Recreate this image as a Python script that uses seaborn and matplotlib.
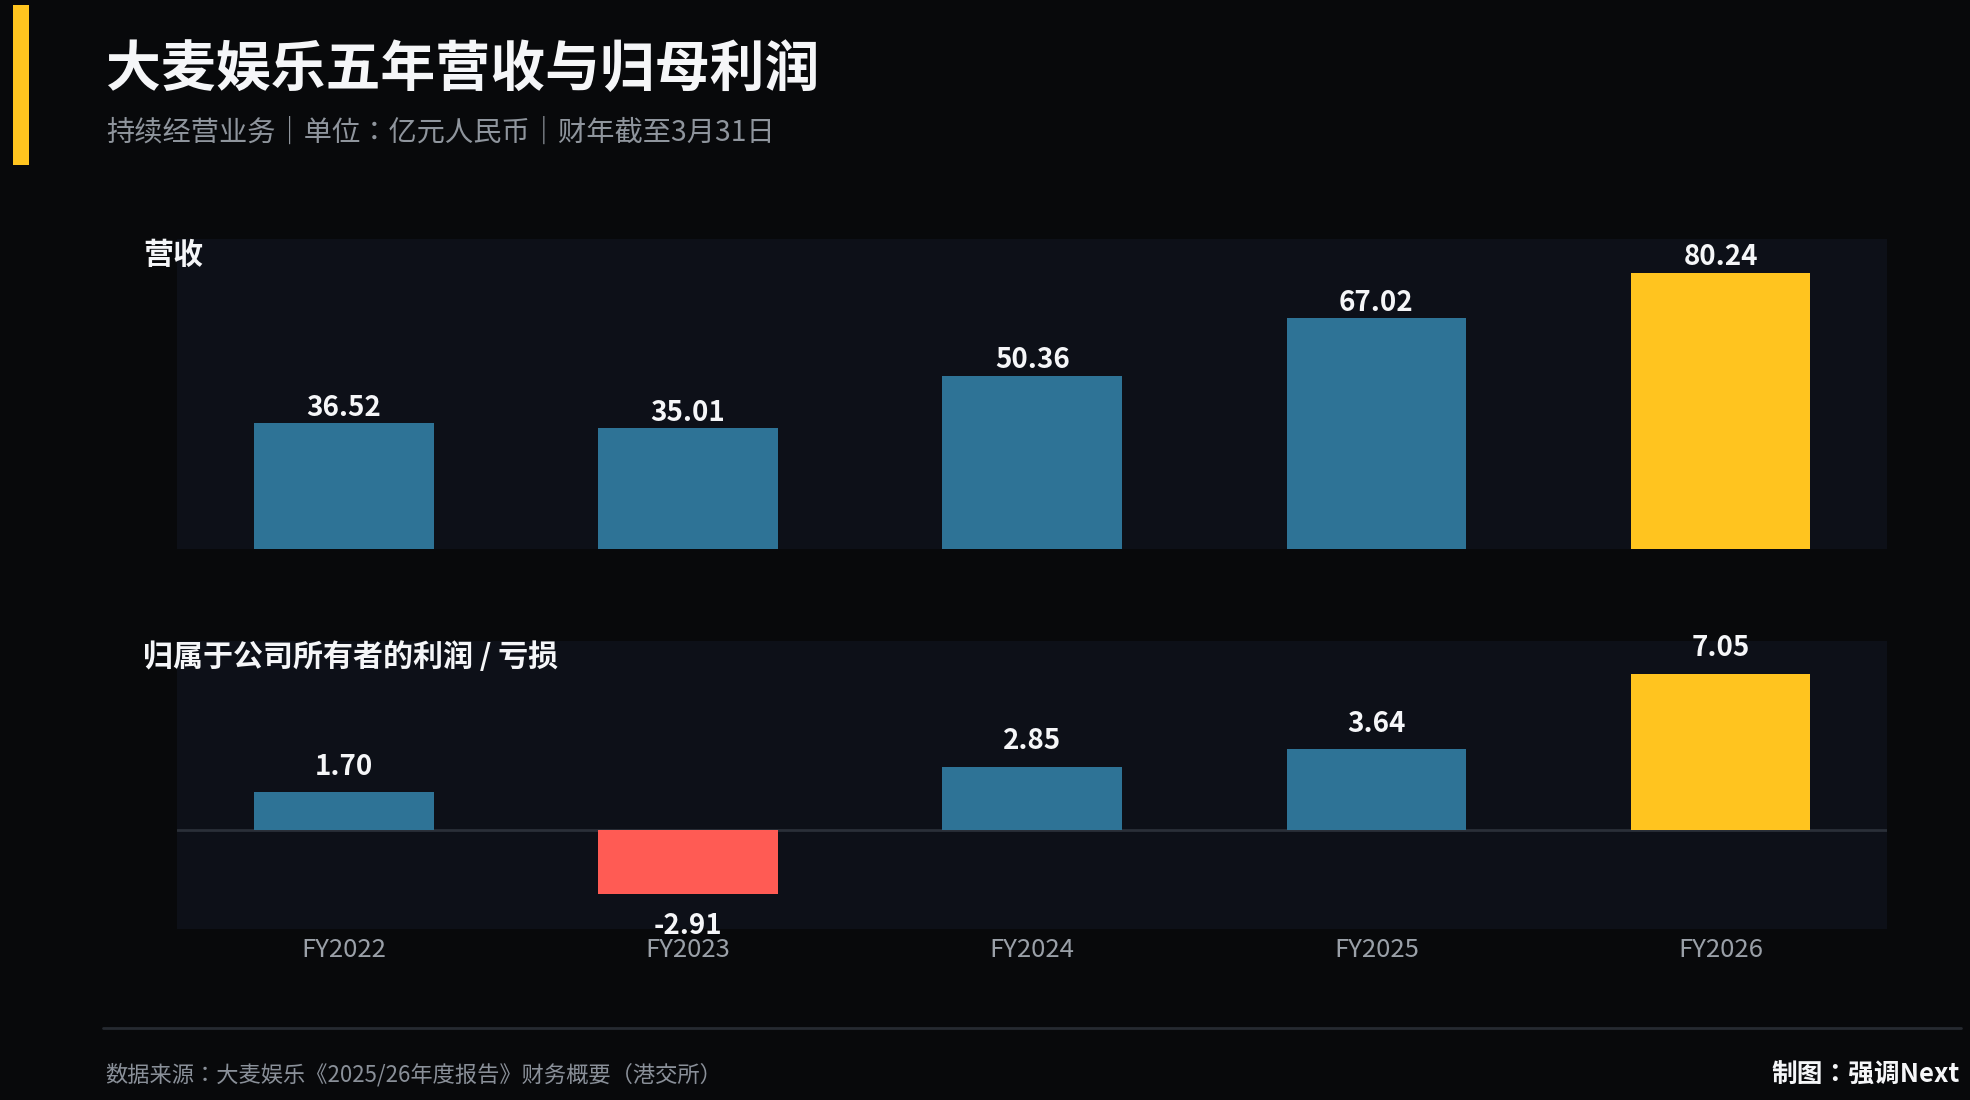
import matplotlib
matplotlib.use("Agg")
import matplotlib.pyplot as plt
import seaborn as sns
import pandas as pd
from matplotlib.patches import Rectangle
from matplotlib.lines import Line2D

# data (亿元人民币)
years = ["FY2022", "FY2023", "FY2024", "FY2025", "FY2026"]
revenue = [36.52, 35.01, 50.36, 67.02, 80.24]
profit = [1.70, -2.91, 2.85, 3.64, 7.05]

BG = "#08090b"
PANEL = "#0d1018"
BLUE = "#2e7396"
YELLOW = "#ffc41f"
RED = "#ff5b54"

sns.set_theme(style="dark")
plt.rcParams["font.family"] = ["Noto Sans CJK SC", "DejaVu Sans"]
# centred full-width colon, as in the original
COLON_FONT = ["Noto Sans CJK JP", "DejaVu Sans"]

df = pd.DataFrame({"year": years, "revenue": revenue, "profit": profit})

# colour: last year highlighted, losses in red
rev_colors = [YELLOW if i == len(years) - 1 else BLUE for i in range(len(years))]
pro_colors = [YELLOW if i == len(years) - 1 else (RED if v < 0 else BLUE)
              for i, v in enumerate(profit)]

fig = plt.figure(figsize=(19.7, 11), dpi=100, facecolor=BG)

ax1 = fig.add_axes([0.0898, 0.5009, 0.8683, 0.2818])
ax2 = fig.add_axes([0.0898, 0.1555, 0.8683, 0.2618])

sns.barplot(data=df, x="year", y="revenue", hue="year", palette=rev_colors,
            width=0.522, legend=False, ax=ax1, saturation=1, linewidth=0)
sns.barplot(data=df, x="year", y="profit", hue="year", palette=pro_colors,
            width=0.522, legend=False, ax=ax2, saturation=1, linewidth=0)

for ax in (ax1, ax2):
    ax.set_facecolor(PANEL)
    for s in ax.spines.values():
        s.set_visible(False)
    ax.set_xlim(-0.485, 4.485)
    ax.set_xlabel("")
    ax.set_ylabel("")
    ax.set_yticks([])
    ax.grid(False)

ax1.set_ylim(0, 90)
ax1.set_xticks([])
ax2.set_ylim(-4.47, 8.54)
ax2.axhline(0, color="#2a2f38", lw=2, zorder=0.5)
ax2.tick_params(axis="x", length=0, pad=5.5, labelsize=18.5, labelcolor="#9aa0a8")

for c in ax1.containers:
    ax1.bar_label(c, fmt="%.2f", padding=1, color="#f5f6f8", fontsize=20,
                  fontweight="bold")
for c in ax2.containers:
    pad = 13 if c.datavalues[0] < 0 else 8.5
    ax2.bar_label(c, fmt="%.2f", padding=pad, color="#f5f6f8", fontsize=20,
                  fontweight="bold")

# titles
fig.add_artist(Rectangle((0.0066, 0.85), 0.0081, 0.1455, transform=fig.transFigure,
                         facecolor=YELLOW, edgecolor="none"))
fig.text(0.0538, 0.937, "大麦娱乐五年营收与归母利润", fontsize=39.5, fontweight="bold",
         color="#f5f6f8", va="center", ha="left")
fig.text(0.0538, 0.8795, "持续经营业务｜单位：亿元人民币｜财年截至3月31日", fontsize=20.3,
         color="#8f959d", va="center", ha="left", family=COLON_FONT)

fig.text(0.0726, 0.768, "营收", fontsize=21.6, fontweight="bold", color="#f5f6f8",
         va="center", ha="left")
fig.text(0.0726, 0.4027, "归属于公司所有者的利润 / 亏损", fontsize=21.6, fontweight="bold",
         color="#f5f6f8", va="center", ha="left")

# footer
fig.add_artist(Line2D([0.0523, 0.9955], [0.0655, 0.0655], transform=fig.transFigure,
                      color="#262a31", lw=2))
fig.text(0.0533, 0.0227, "数据来源：大麦娱乐《2025/26年度报告》财务概要（港交所）",
         fontsize=16, color="#8a9099", va="center", ha="left", family=COLON_FONT)
fig.text(0.995, 0.0227, "制图：强调Next", fontsize=18.5, fontweight="bold",
         color="#f5f6f8", va="center", ha="right", family=COLON_FONT)

fig.savefig("out.png", dpi=100, facecolor=BG)
